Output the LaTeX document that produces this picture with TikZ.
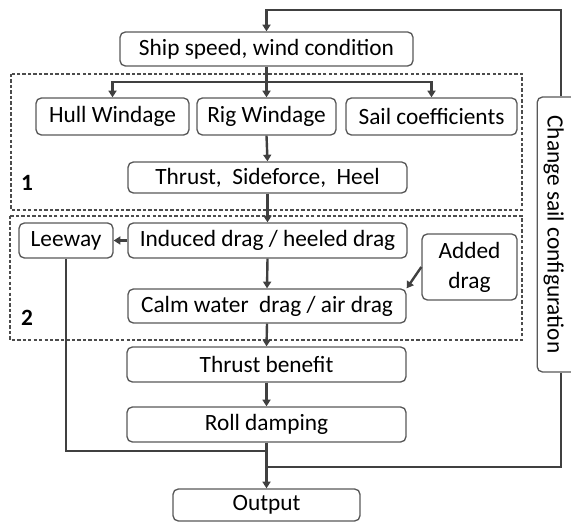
\documentclass[tikz,border=0pt]{standalone}
\usepackage{fontspec}
\setmainfont{Carlito}
\usepackage{tikz}
\usetikzlibrary{arrows.meta}
\newcommand{\bfont}{\fontsize{17.5}{22.5}\selectfont}

\begin{document}
\begin{tikzpicture}[x=0.75pt, y=-0.75pt,
  blk/.style={draw=black!65, line width=1pt, rounded corners=4pt, fill=white, font=\bfont, inner sep=0pt, align=center},
  sz/.style 2 args={minimum width=#1*0.75pt, minimum height=#2*0.75pt},
  link/.style={draw=black!75, line width=1.8pt},
  arr/.style={link, -{Triangle[length=5pt, width=6pt]}},
  grp/.style={draw=black!70, line width=1.6pt, dash pattern=on 2.5pt off 1.6pt},
]
\clip (0,0) rectangle (571,523);
% Groups
\draw[grp] (11,74) rectangle (522,210);
\draw[grp] (10,216) rectangle (522,340);
\node[font=\bfont\bfseries] (g1) at (27,183) {1};
\node[font=\bfont\bfseries] (g2) at (27,318) {2};
% Input
\node[blk, sz={293}{34}] (ship) at (266.5,49) {Ship speed, wind condition};
% Group 1
\node[blk, sz={153}{37}] (hull) at (112.5,116.5) {Hull Windage};
\node[blk, sz={139}{37}] (rig) at (266.5,116.5) {Rig Windage};
\node[blk, sz={171}{37}] (sail) at (431.5,116.5) {Sail coefficients};
\node[blk, sz={279}{31}] (thrust) at (267.5,177.5) {Thrust,\ \ Sideforce,\ \ Heel};
% Group 2
\node[blk, sz={94}{35}] (leeway) at (66,240.5) {Leeway};
\node[blk, sz={279}{35}] (induced) at (267.5,240.5) {Induced drag / heeled drag};
\node[blk, sz={95}{66}] (added) at (469.5,267) {Added\\drag};
\node[blk, sz={278}{34}] (calm) at (267,306) {Calm water\ \ drag / air drag};
% Lower chain
\node[blk, sz={279}{35}] (benefit) at (266.5,364.5) {Thrust benefit};
\node[blk, sz={279}{35}] (roll) at (266.5,424.5) {Roll damping};
\node[blk, sz={187}{32}] (output) at (266.5,505) {Output};
% Feedback
\node[blk, rotate=-90, minimum width=275*0.75pt, text height=26pt, text depth=5.75pt, inner ysep=2pt] (chg) at (561,234.5) {Change sail configuration};
% Connectors
\coordinate (br) at (266.5,82);
\coordinate (ctop) at (561,10);
\coordinate (jl) at (266.5,451);
\coordinate (jr) at (266.5,467);
\draw[link] (ship.south) -- (br);
\draw[arr] (br) -| (hull.north);
\draw[arr] (br) -- (rig.north);
\draw[arr] (br) -| (sail.north);
\draw[arr] (rig.south) -- (thrust.north);
\draw[arr] (thrust.south) -- (induced.north);
\draw[arr] (induced.west) -- (leeway.east);
\draw[arr] (induced.south) -- (calm.north);
\draw[arr] (added.west) -- (calm.north east);
\draw[arr] (calm.south) -- (benefit.north);
\draw[arr] (benefit.south) -- (roll.north);
\draw[arr] (roll.south) -- (output.north);
\draw[link] (leeway.south) |- (jl);
\draw[link] (chg.east) |- (jr);
\draw[arr] (chg.west) -- (ctop) -| (ship.north);
\end{tikzpicture}
\end{document}
